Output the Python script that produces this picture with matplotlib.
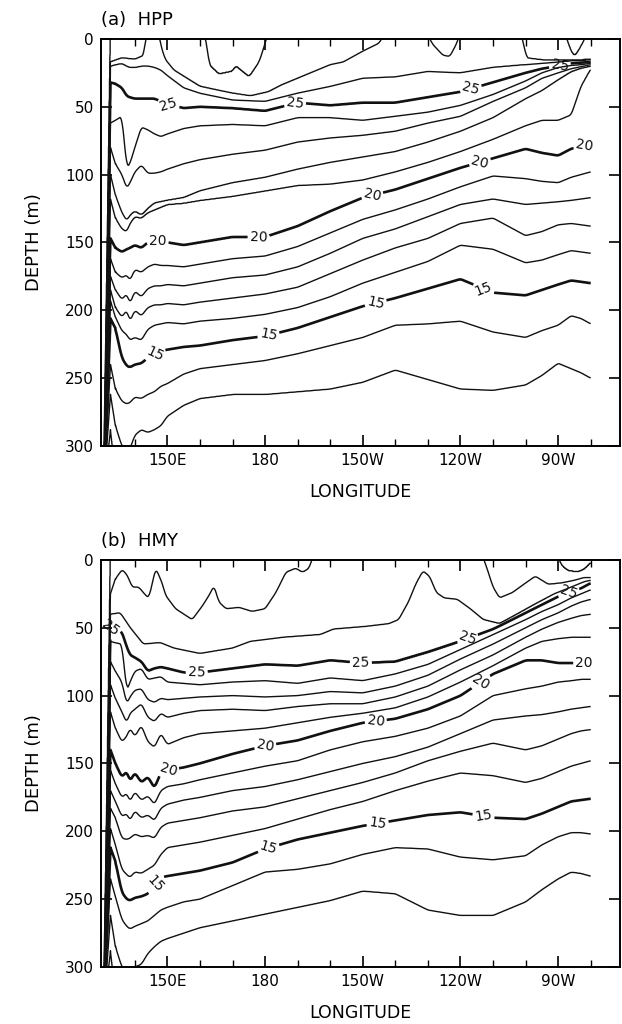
import numpy as np
import matplotlib
matplotlib.use("Agg")
import matplotlib.pyplot as plt

LEVELS = list(range(12, 29))
BOLD = [15, 20, 25]

# ---------- (a) HPP ----------
HPP_LON = [130.5, 132.5, 134, 136, 137.5, 138.5, 140, 142, 144, 146, 148, 150, 155, 160,
           170, 180, 190, 200, 210, 220, 230, 240, 250, 260, 265, 270, 274, 277, 280]
HPP_Z28_LON = [130.5, 132.5, 161, 161.7, 162.8, 165.8, 169.9, 171, 173, 175.1, 178.2, 180.2, 181,
               272, 273.6, 275, 276.7, 278.7, 280]
HPP_Z28 = [330, -5, -5, -1, 19, 26, 24, 20, 24, 28, 17, 2, -5, -5, 7, 13, 7, -3, -5]
HPP_Z27_LON = [130.5, 132.5, 136, 140, 142.8, 143.5, 147.3, 148, 149.3, 152, 156, 160, 170, 175.5,
               181, 185, 190, 195, 200, 204, 210, 215, 217, 229.5, 231.5, 234.6, 236.7, 238.7,
               240, 258.5, 259.5, 260.3, 265, 270, 274, 278, 280]
HPP_Z27 = [330, 17, 14, 15, 12, -5, -5, 5, 15, 23, 29, 35, 40, 42, 39, 34, 29, 24, 19, 17, 9, 3,
           -5, -5, 4, 12, 13, 4, -5, -5, 5, 14, 15.5, 15.5, 15.5, 15.5, 15]
HPP_Z26 = [330, 20, 19, 18, 20, 21, 21, 20, 20, 21, 23, 27, 36, 40, 45, 46, 40, 35, 29, 28, 24, 25, 21, 19, 18, 17, 16, 16, 15]
HPP_Z25 = [330, 32, 33, 36, 42, 43, 44, 44, 44, 44, 46, 48, 51, 50, 51, 53, 47, 49, 47, 47, 43, 39, 32, 25, 22, 20, 18, 17.5, 17]
HPP_Z24 = [330, 62, 60, 57, 95, 92, 80, 65, 67, 70, 72, 70, 66, 64, 63, 64, 58, 58, 60, 57, 54, 49, 41, 31, 25, 21, 19.5, 19, 18]
HPP_Z23 = [330, 80, 92, 100, 110, 106, 98, 93, 99, 99, 98, 96, 92, 89, 85, 82, 76, 73, 71, 68, 62, 57, 46, 36, 29, 25, 22, 20.5, 19]
HPP_Z22 = [330, 100, 115, 128, 134, 130, 127, 130, 125, 121, 120, 119, 117, 112, 106, 102, 96, 91, 87, 83, 76, 68, 58, 44, 38, 30, 24, 21.5, 20]
HPP_Z21 = [330, 118, 132, 140, 142, 136, 131, 132, 128, 126, 124, 122, 121, 119, 116, 112, 108, 107, 104, 98, 91, 83, 74, 64, 60, 60, 56, 35, 22]
HPP_Z20 = [330, 147, 154, 157, 155, 154, 152, 154, 150, 149, 149, 150, 152, 150, 146, 146, 138, 127, 117, 111, 103, 95, 88, 81, 84, 86, 81, 79, 78]
HPP_Z19 = [330, 162, 172, 176, 174, 178, 170, 172, 168, 166, 167, 167, 168, 166, 162, 160, 153, 143, 133, 126, 118, 109, 101, 103, 105, 106, 102, 100, 98]
HPP_Z18 = [330, 175, 185, 192, 188, 195, 186, 190, 184, 182, 182, 181, 182, 180, 176, 174, 168, 158, 147, 140, 131, 122, 118, 122, 121, 120, 119, 118, 117]
HPP_Z17 = [330, 185, 198, 205, 200, 208, 200, 204, 198, 196, 196, 195, 196, 194, 191, 188, 183, 173, 163, 154, 147, 136, 132, 145, 142, 137, 136, 137, 138]
HPP_Z16 = [330, 193, 205, 215, 218, 222, 220, 222, 214, 211, 210, 209, 210, 208, 206, 203, 198, 190, 180, 172, 164, 152, 155, 165, 163, 159, 156, 157, 158]
HPP_Z15 = [330, 206, 213, 235, 241, 242, 240, 239, 235, 232, 230, 229, 227, 226, 222, 219, 213, 205, 197, 191, 184, 177, 187, 189, 185, 181, 178, 179, 180]
HPP_Z14 = [330, 240, 258, 267, 269, 268, 264, 265, 262, 260, 256, 254, 247, 243, 240, 237, 232, 226, 220, 211, 210, 208, 216, 220, 215, 211, 204, 206, 210]
HPP_Z13 = [330, 262, 285, 300, 305, 302, 292, 288, 290, 288, 285, 278, 270, 265, 262, 262, 260, 258, 253, 244, 251, 258, 259, 255, 248, 239, 243, 246, 250]
HPP_Z12 = [330, 288, 320, 330, 330, 330, 330, 330, 330, 330, 330, 330, 330, 330, 330, 330, 330, 330, 330, 330, 330, 330, 330, 330, 330, 330, 330, 330, 330]

# ---------- (b) HMY ----------
HMY_LON = HPP_LON
HMY_Z28_LON = [130.5, 132.5, 269.5, 271, 273, 276, 278, 280]
HMY_Z28 = [330, -5, -5, 4, 8, 9, 7, 2]
HMY_Z27_LON = [130.5, 132.5, 134, 136.1, 137.6, 139.2, 141.2, 143.3, 144.3, 146.4, 148.4, 149.4, 152.5,
               157.6, 160.7, 162.8, 164.3, 165.8, 168, 172, 176, 180, 183.3, 186.4, 189.4, 191.5,
               193.5, 195, 246.5, 248, 250, 252, 256, 260, 263, 267, 271, 275, 278, 280]
HMY_Z27 = [330, 25, 14, 7, 11, 20, 20, 26, 28, 6, 17, 26, 36, 44, 34, 26, 19, 31, 36, 35, 38, 36, 24,
           9, 6, 9, 6, -5, -5, 5, 20, 28, 24, 17, 12, 18, 17, 15, 13, 13]
HMY_Z26_LON = [130.5, 132.5, 135.5, 138.6, 142.6, 147.8, 152, 160, 170, 175.5, 185.7, 197, 201, 211,
               218, 221, 224, 226.4, 228.5, 230.5, 232.6, 235, 239, 243, 247, 252, 256.6, 262.6,
               268.8, 273, 278, 280]
HMY_Z26 = [330, 40, 39, 50, 62, 61, 65, 69, 65, 60, 57, 55, 51, 49, 47, 44, 31, 17, 8, 12, 24, 28, 29,
           36, 44, 47, 41, 33, 25, 21, 16, 15]
HMY_Z25 = [330, 50, 51, 53, 64, 70, 72, 75, 82, 80, 79, 80, 83, 83, 80, 77, 78, 74, 76, 75, 68, 60, 51, 39, 33, 27, 23, 21, 17]
HMY_Z24 = [330, 60, 61, 62, 97, 90, 82, 80, 88, 87, 86, 90, 91, 92, 90, 89, 91, 87, 89, 84, 77, 66, 55, 44, 38, 33, 28, 25, 22]
HMY_Z23 = [330, 75, 82, 90, 106, 101, 96, 95, 103, 105, 102, 103, 102, 101, 100, 101, 100, 97, 98, 93, 85, 73, 62, 50, 44, 39, 34, 31, 29]
HMY_Z22 = [330, 92, 102, 112, 120, 113, 110, 106, 116, 119, 113, 116, 113, 111, 110, 111, 108, 106, 106, 101, 93, 81, 70, 57, 51, 46, 43, 41, 40]
HMY_Z21 = [330, 112, 124, 134, 130, 124, 130, 122, 134, 138, 128, 136, 131, 128, 126, 124, 120, 116, 113, 109, 101, 90, 78, 65, 60, 58, 57, 57, 57]
HMY_Z20 = [330, 140, 150, 160, 156, 163, 157, 164, 160, 168, 157, 155, 153, 150, 143, 137, 133, 126, 120, 117, 110, 100, 84, 74, 74, 76, 76, 76, 76]
HMY_Z19 = [330, 155, 165, 175, 172, 178, 171, 177, 174, 180, 170, 167, 165, 162, 157, 152, 148, 140, 134, 130, 124, 115, 100, 95, 93, 90, 89, 88, 88]
HMY_Z18 = [330, 170, 178, 189, 187, 192, 185, 190, 188, 192, 183, 180, 177, 175, 170, 167, 162, 156, 150, 145, 138, 128, 118, 115, 114, 112, 110, 109, 108]
HMY_Z17 = [330, 183, 190, 205, 206, 205, 202, 204, 203, 205, 197, 194, 192, 190, 185, 182, 176, 170, 164, 157, 148, 141, 135, 140, 137, 132, 128, 126, 125]
HMY_Z16 = [330, 198, 210, 228, 232, 234, 230, 231, 228, 225, 217, 212, 210, 208, 203, 198, 191, 184, 178, 170, 163, 157, 159, 164, 161, 156, 152, 150, 148]
HMY_Z15 = [330, 212, 222, 245, 250, 251, 249, 248, 246, 240, 234, 233, 231, 229, 223, 213, 206, 201, 196, 192, 188, 186, 190, 191, 187, 182, 178, 177, 176]
HMY_Z14 = [330, 235, 248, 265, 270, 272, 270, 268, 266, 262, 258, 256, 252, 250, 240, 230, 228, 224, 217, 212, 213, 219, 221, 218, 210, 204, 201, 201, 202]
HMY_Z13 = [330, 262, 285, 300, 305, 305, 300, 298, 290, 285, 281, 279, 275, 271, 266, 261, 256, 251, 244, 246, 258, 262, 262, 252, 243, 235, 230, 231, 233]
HMY_Z12 = HPP_Z12

XTICKS = [150, 180, 210, 240, 270]
XTICKLABELS = ['150E', '180', '150W', '120W', '90W']

# label spots (lon, depth) for the 15/20/25 isotherms
HPP_LABELS = [(150.5, 47), (189, 46), (243, 35), (270.5, 19),
              (147, 152), (178, 146), (213, 116), (246, 91), (278, 78),
              (146, 231), (181, 218), (214, 195), (247, 185)]
HMY_LABELS = [(131.2, 45), (159, 83), (209.4, 76), (242.6, 60), (273.4, 25),
              (150.5, 157), (180.2, 139), (214, 119), (246, 89), (278, 73),
              (147, 240), (181, 212), (214.6, 195), (247, 190)]

hpp = {28: (HPP_Z28_LON, HPP_Z28), 27: (HPP_Z27_LON, HPP_Z27), 26: (HPP_LON, HPP_Z26),
       25: (HPP_LON, HPP_Z25), 24: (HPP_LON, HPP_Z24), 23: (HPP_LON, HPP_Z23),
       22: (HPP_LON, HPP_Z22), 21: (HPP_LON, HPP_Z21), 20: (HPP_LON, HPP_Z20),
       19: (HPP_LON, HPP_Z19), 18: (HPP_LON, HPP_Z18), 17: (HPP_LON, HPP_Z17),
       16: (HPP_LON, HPP_Z16), 15: (HPP_LON, HPP_Z15), 14: (HPP_LON, HPP_Z14),
       13: (HPP_LON, HPP_Z13), 12: (HPP_LON, HPP_Z12)}
hmy = {28: (HMY_Z28_LON, HMY_Z28), 27: (HMY_Z27_LON, HMY_Z27), 26: (HMY_Z26_LON, HMY_Z26),
       25: (HMY_LON, HMY_Z25), 24: (HMY_LON, HMY_Z24), 23: (HMY_LON, HMY_Z23),
       22: (HMY_LON, HMY_Z22), 21: (HMY_LON, HMY_Z21), 20: (HMY_LON, HMY_Z20),
       19: (HMY_LON, HMY_Z19), 18: (HMY_LON, HMY_Z18), 17: (HMY_LON, HMY_Z17),
       16: (HMY_LON, HMY_Z16), 15: (HMY_LON, HMY_Z15), 14: (HMY_LON, HMY_Z14),
       13: (HMY_LON, HMY_Z13), 12: (HMY_LON, HMY_Z12)}


def temperature_section(iso):
    # turn isotherm depths into a T(depth, lon) field so contour() can draw them
    lon = np.arange(130.5, 280.001, 0.1)
    dep = np.arange(0, 300.1, 0.5)
    warm_first = sorted(iso, reverse=True)
    D = np.array([np.interp(lon, iso[k][0], iso[k][1]) for k in warm_first])
    # round off the corners of the hand-read polylines away from the western wall
    win = 13
    kern = np.ones(win) / win
    padded = np.pad(D, ((0, 0), (win // 2, win // 2)), mode='edge')
    Ds = np.array([np.convolve(row, kern, mode='valid') for row in padded])
    east = lon >= 134.0
    D[:, east] = Ds[:, east]
    for i in range(1, len(D)):
        D[i] = np.maximum(D[i], D[i - 1] + 0.05)
    fp = np.concatenate(([29.0], np.array(warm_first, float), [5.0]))
    T = np.empty((dep.size, lon.size))
    for j in range(lon.size):
        xp = np.concatenate(([-1000.0], D[:, j], [2000.0]))
        T[:, j] = np.interp(dep, xp, fp)
    return lon, dep, T


def draw(ax, iso, title, label_spots):
    lon, dep, T = temperature_section(iso)
    thin = [lv for lv in LEVELS if lv not in BOLD]
    ax.contour(lon, dep, T, levels=thin, colors='#111111', linewidths=1.0)
    cs = ax.contour(lon, dep, T, levels=BOLD, colors='#111111', linewidths=1.9)
    ax.clabel(cs, manual=label_spots, inline=True, fmt='%d', fontsize=10, inline_spacing=3)

    ax.set_xlim(129.6, 289.0)
    ax.set_ylim(300, 0)
    ax.set_xticks(XTICKS)
    ax.set_xticklabels(XTICKLABELS)
    ax.set_xticks(np.arange(140, 281, 10), minor=True)
    ax.set_yticks(np.arange(0, 301, 50))
    ax.tick_params(which='both', direction='in', top=True, right=True, labelsize=11, pad=5)
    ax.tick_params(which='major', length=8, width=1.2)
    ax.tick_params(which='minor', length=5, width=1.0)
    for sp in ax.spines.values():
        sp.set_linewidth(1.4)
    ax.set_xlabel('LONGITUDE', fontsize=12.5, labelpad=11)
    ax.set_ylabel('DEPTH (m)', fontsize=13, labelpad=16)
    ax.text(0.0, 1.047, title, transform=ax.transAxes, ha='left', va='center', fontsize=13)


fig = plt.figure(figsize=(6.22, 10.24), dpi=100)
ax_a = fig.add_axes([0.1624, 0.5645, 0.8344, 0.3975])
ax_b = fig.add_axes([0.1624, 0.0557, 0.8344, 0.3975])

draw(ax_a, hpp, '(a)  HPP', HPP_LABELS)
draw(ax_b, hmy, '(b)  HMY', HMY_LABELS)

fig.savefig('out.png', dpi=100)
